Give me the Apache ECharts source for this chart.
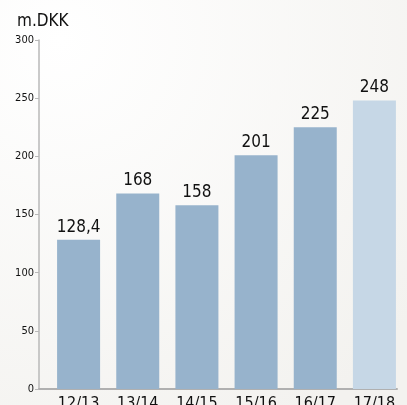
<!DOCTYPE html>
<html>
<head>
<meta charset="utf-8">
<script src="https://cdn.jsdelivr.net/npm/echarts@6/dist/echarts.min.js"></script>
<style>
  html, body { margin: 0; padding: 0; }
  #chart { width: 407px; height: 405px; }
</style>
</head>
<body>
<div id="chart"></div>
<script>
const categories = ["12/13", "13/14", "14/15", "15/16", "16/17", "17/18"];
const values = [128.4, 168, 158, 201, 225, 248];
const valueLabels = ["128,4", "168", "158", "201", "225", "248"];
const barColors = ["#97b3cc", "#97b3cc", "#97b3cc", "#97b3cc", "#97b3cc", "#c6d7e6"];

const textFont = "DejaVu Sans Condensed";

const chart = echarts.init(document.getElementById("chart"));
chart.setOption({
  animation: false,
  backgroundColor: {
    type: "radial", x: 0.15, y: 0.1, r: 1.1,
    colorStops: [
      { offset: 0, color: "#ffffff" },
      { offset: 1, color: "#f3f2ef" }
    ]
  },
  title: {
    text: "m.DKK",
    left: 17, top: 13, padding: 0,
    textStyle: { fontFamily: textFont, fontSize: 17, fontWeight: "normal", color: "#111" }
  },
  grid: [
    { left: 49, right: 3, top: 40, bottom: 16, outerBoundsMode: "none", containLabel: false },
    { left: 39, right: 10, top: 40, bottom: 16, outerBoundsMode: "none", containLabel: false }
  ],
  xAxis: [
    {
      type: "category",
      gridIndex: 0,
      data: categories,
      axisLine: { show: false },
      axisTick: { show: false },
      axisLabel: {
        margin: 7,
        fontFamily: textFont,
        fontSize: 16,
        color: "#111"
      }
    },
    {
      type: "category",
      gridIndex: 1,
      data: categories,
      axisLine: { lineStyle: { color: "#b0b0b0", width: 2 } },
      axisTick: { show: false },
      axisLabel: { show: false }
    }
  ],
  yAxis: [
    {
      type: "value",
      gridIndex: 0,
      min: 0, max: 300, interval: 50,
      offset: 10,
      splitLine: { show: false },
      axisLine: { show: true, lineStyle: { color: "#b8b8b8", width: 1.5 } },
      axisTick: { show: true, length: 4, lineStyle: { color: "#b8b8b8" } },
      axisLabel: {
        margin: 5,
        fontFamily: textFont,
        fontSize: 11,
        color: "#111"
      }
    },
    {
      type: "value",
      gridIndex: 1,
      min: 0, max: 300,
      show: false
    }
  ],
  series: [
    {
      type: "bar",
      xAxisIndex: 0,
      yAxisIndex: 0,
      barWidth: 43,
      data: values.map((v, i) => ({
        value: v,
        itemStyle: { color: barColors[i] }
      })),
      label: {
        show: true,
        position: "top",
        distance: 4,
        formatter: p => valueLabels[p.dataIndex],
        fontFamily: textFont,
        fontSize: 17,
        color: "#111"
      }
    }
  ]
});
</script>
</body>
</html>
